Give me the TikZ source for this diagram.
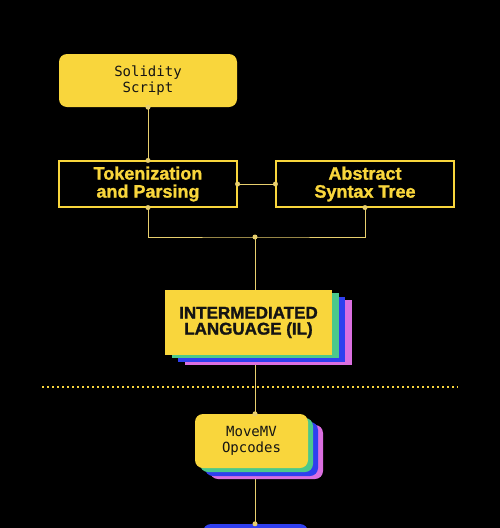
\documentclass[tikz,border=0pt]{standalone}
\usepackage{fontspec}
\setmainfont{Liberation Sans}
\setmonofont{DejaVu Sans Mono}
\newfontfamily\heavy[FakeBold=1.4]{Liberation Sans Bold}
\usetikzlibrary{positioning,shadows}
\definecolor{sunny}{HTML}{F9D63C}
\definecolor{wire}{HTML}{E8CF6E}
\definecolor{mint}{HTML}{4CC98B}
\definecolor{royal}{HTML}{2F3FEF}
\definecolor{orchid}{HTML}{DB6FE0}
\definecolor{ink}{HTML}{141414}
\pgfdeclarelayer{wires}
\pgfsetlayers{wires,main}
\tikzset{
 card/.style={fill=sunny,rounded corners=8pt,inner sep=0pt,text=ink,align=center,font=\ttfamily\fontsize{14}{16.5}\selectfont},
 frame/.style={draw=sunny,line width=1.1pt,inner sep=0pt,text=sunny,align=center,font=\heavy\fontsize{18}{18}\selectfont,minimum width=178pt,minimum height=46pt},
 slab/.style={fill=sunny,inner sep=0pt,text=ink,align=center,font=\heavy\fontsize{17}{16}\selectfont},
 stack/.style args={#1/#2/#3}{copy shadow={shadow xshift=#1pt,shadow yshift=-#2pt,fill=#3,draw=none}},
 wirel/.style={draw=wire,line width=1pt}
}
\begin{document}
\begin{tikzpicture}[x=1pt,y=-1pt,line cap=round]
\useasboundingbox (0,0) rectangle (500,528);
% blocks
\node[card,minimum width=178pt,minimum height=53pt] (solidity) at (148,80.5) {Solidity\\Script};
\node[frame] (token) at (148,184) {Tokenization\\and Parsing};
\node[frame] (ast) at (365,184) {Abstract\\Syntax Tree};
\node[slab,stack=20/10/orchid,stack=13/7/royal,stack=7/3/mint,minimum width=167pt,minimum height=65pt] (il) at (248.5,322.5) {INTERMEDIATED\\LANGUAGE (IL)};
\node[card,stack=15/11/orchid,stack=10/8/royal,stack=5/4/mint,minimum width=113pt,minimum height=54pt] (movemv) at (251.5,441) {MoveMV\\Opcodes};
\node[fill=royal,rounded corners=8pt,minimum width=105pt,minimum height=40pt] (nextstage) at (255.5,544) {};
% connectors
\coordinate (join) at (255,237);
\coordinate (rule l) at (42,387); \coordinate (rule r) at (458,387);
\begin{pgfonlayer}{wires}
\fill[black] (0,0) rectangle (500,528);
\draw[sunny,line width=2pt,line cap=butt,dash pattern=on 2pt off 3pt] (rule l) -- (rule r);
\draw[wirel] (solidity.south) -- (token.north) (token.east) -- (ast.west);
\draw[wirel] (token.south) |- (join) -| (ast.south);
\draw[wirel] (join) -- (join |- il.north);
\draw[wirel] (join |- il.south) -- (join |- movemv.north);
\draw[wirel] (join |- movemv.south) -- (join |- nextstage.north);
\end{pgfonlayer}
\foreach \p in {solidity.south,token.north,token.east,ast.west,token.south,ast.south,join}
 \fill[wire] (\p) circle(2.5pt);
\fill[wire] (join |- movemv.north) circle(2.5pt) (join |- nextstage.north) circle(2.5pt);
\end{tikzpicture}
\end{document}
